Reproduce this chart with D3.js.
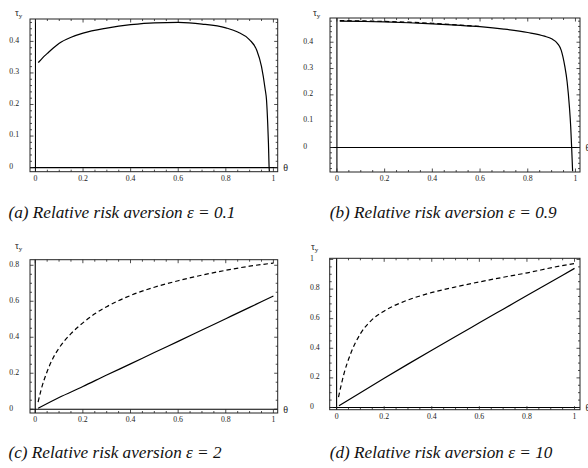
<!DOCTYPE html>
<html>
<head>
<meta charset="utf-8">
<script src="https://cdn.jsdelivr.net/npm/d3@7/dist/d3.min.js"></script>
<style>
body { margin: 0; background: #fff; }
svg text { font-family: "Liberation Serif", "DejaVu Serif", "Noto Serif", Tinos, serif; }
</style>
</head>
<body>
<svg id="chart" width="588" height="468"></svg>
<script>
// (a) epsilon = 0.1
const thetaA = [0.012, 0.03, 0.05, 0.075, 0.1, 0.15, 0.2, 0.3, 0.4, 0.5, 0.6, 0.7, 0.8, 0.85, 0.9, 0.93, 0.95, 0.965, 0.971, 0.976, 0.979, 0.982, 0.983];
const tauA = [0.333, 0.348, 0.362, 0.379, 0.394, 0.413, 0.426, 0.442, 0.453, 0.459, 0.46, 0.455, 0.443, 0.43, 0.405, 0.372, 0.32, 0.25, 0.214, 0.14, 0.08, 0.0, -0.012];

// (b) epsilon = 0.9
const thetaB = [0.012, 0.1, 0.2, 0.3, 0.4, 0.5, 0.6, 0.7, 0.8, 0.87, 0.9, 0.925, 0.94, 0.955, 0.965, 0.975, 0.98, 0.984, 0.988];
const tauB = [0.48, 0.479, 0.477, 0.474, 0.47, 0.465, 0.459, 0.45, 0.437, 0.423, 0.413, 0.395, 0.37, 0.31, 0.25, 0.15, 0.08, 0.0, -0.09];
const thetaBDash = [0.012, 0.1, 0.2, 0.3, 0.4, 0.5, 0.6];
const tauBDash = [0.482, 0.481, 0.479, 0.476, 0.472, 0.466, 0.46];

// (c) epsilon = 2
const thetaC = [0.012, 0.1, 0.2, 0.3, 0.4, 0.5, 0.6, 0.7, 0.8, 0.9, 1.0];
const tauC = [0.005, 0.065, 0.126, 0.19, 0.252, 0.315, 0.377, 0.44, 0.503, 0.566, 0.629];
const thetaCDash = [0.012, 0.025, 0.05, 0.075, 0.1, 0.15, 0.2, 0.25, 0.3, 0.4, 0.5, 0.6, 0.7, 0.8, 0.9, 1.0];
const tauCDash = [0.04, 0.11, 0.21, 0.285, 0.34, 0.42, 0.48, 0.53, 0.57, 0.632, 0.678, 0.714, 0.745, 0.772, 0.795, 0.812];

// (d) epsilon = 10
const thetaD = [0.01, 0.1, 0.2, 0.3, 0.4, 0.5, 0.6, 0.7, 0.8, 0.9, 1.0];
const tauD = [0.012, 0.1, 0.197, 0.293, 0.387, 0.48, 0.572, 0.664, 0.756, 0.848, 0.94];
const thetaDDash = [0.008, 0.031, 0.059, 0.1, 0.143, 0.199, 0.283, 0.381, 0.493, 0.605, 0.717, 0.802, 0.914, 1.0];
const tauDDash = [0.07, 0.228, 0.363, 0.498, 0.584, 0.651, 0.716, 0.768, 0.812, 0.85, 0.885, 0.91, 0.948, 0.973];

const xTicks = [0, 0.2, 0.4, 0.6, 0.8, 1];
const yTicksAB = [0, 0.1, 0.2, 0.3, 0.4];
const yTicksC = [0, 0.2, 0.4, 0.6, 0.8];
const yTicksD = [0, 0.2, 0.4, 0.6, 0.8, 1];
const captions = [
	"(a) Relative risk aversion \u03b5 = 0.1",
	"(b) Relative risk aversion \u03b5 = 0.9",
	"(c) Relative risk aversion \u03b5 = 2",
	"(d) Relative risk aversion \u03b5 = 10"
];

const panels = [
	{left: 30, top: 19, right: 277.7, bottom: 171.7, xDom: [-0.023, 1.018], yDom: [-0.013, 0.471],
	 yTicks: yTicksAB, yMinor: 0.02, labelX: 9.3, labX: 15, labY: 16, capX: 8.5, capY: 218,
	 lines: [{x: thetaA, y: tauA, dash: false}]},
	{left: 330, top: 18, right: 580, bottom: 172, xDom: [-0.029, 1.019], yDom: [-0.093, 0.492],
	 yTicks: yTicksAB, yMinor: 0.02, labelX: 303.3, labX: 313, labY: 16, capX: 329.7, capY: 218,
	 lines: [{x: thetaB, y: tauB, dash: false}, {x: thetaBDash, y: tauBDash, dash: true}]},
	{left: 30, top: 259.7, right: 277.7, bottom: 413, xDom: [-0.022, 1.018], yDom: [-0.021, 0.831],
	 yTicks: yTicksC, yMinor: 0.05, labelX: 9.3, labX: 15, labY: 249, capX: 8.5, capY: 458,
	 lines: [{x: thetaC, y: tauC, dash: false}, {x: thetaCDash, y: tauCDash, dash: true}]},
	{left: 329.7, top: 258.3, right: 580, bottom: 409.7, xDom: [-0.029, 1.023], yDom: [-0.015, 1.008],
	 yTicks: yTicksD, yMinor: 0.05, labelX: 310, labX: 311, labY: 250, capX: 329.7, capY: 458,
	 lines: [{x: thetaD, y: tauD, dash: false}, {x: thetaDDash, y: tauDDash, dash: true}]}
];

const svg = d3.select("#chart");

function minorValues(dom, step) {
	let out = [];
	let start = Math.ceil(dom[0] / step - 1e-9) * step;
	for (let v = start; v <= dom[1] + 1e-9; v += step) out.push(+v.toFixed(4));
	return out;
}

panels.forEach((p, i) => {
	let g = svg.append("g");
	let x = d3.scaleLinear().domain(p.xDom).range([p.left, p.right]);
	let y = d3.scaleLinear().domain(p.yDom).range([p.bottom, p.top]);

	// axes through the origin
	g.append("line").attr("x1", x(0)).attr("x2", x(0)).attr("y1", p.top).attr("y2", p.bottom)
	 .attr("stroke", "#000").attr("stroke-width", 1.1);
	g.append("line").attr("x1", p.left).attr("x2", p.right).attr("y1", y(0)).attr("y2", y(0))
	 .attr("stroke", "#000").attr("stroke-width", 1.1);

	// frame with inward ticks on all four sides
	g.append("rect").attr("x", p.left).attr("y", p.top)
	 .attr("width", p.right - p.left).attr("height", p.bottom - p.top)
	 .attr("fill", "none").attr("stroke", "#222").attr("stroke-width", 1);

	let xMinor = minorValues(p.xDom, 0.05);
	let yMinor = minorValues(p.yDom, p.yMinor);
	let tk = g.append("g").attr("stroke", "#222").attr("stroke-width", 0.8);
	xMinor.forEach((v) => {
		let len = xTicks.some((t) => Math.abs(t - v) < 1e-6) ? 3.5 : 2;
		tk.append("line").attr("x1", x(v)).attr("x2", x(v)).attr("y1", p.bottom).attr("y2", p.bottom - len);
		tk.append("line").attr("x1", x(v)).attr("x2", x(v)).attr("y1", p.top).attr("y2", p.top + len);
	});
	yMinor.forEach((v) => {
		let len = p.yTicks.some((t) => Math.abs(t - v) < 1e-6) ? 3.5 : 2;
		tk.append("line").attr("y1", y(v)).attr("y2", y(v)).attr("x1", p.left).attr("x2", p.left + len);
		tk.append("line").attr("y1", y(v)).attr("y2", y(v)).attr("x1", p.right).attr("x2", p.right - len);
	});

	// tick labels
	g.selectAll(".xlab").data(xTicks).enter().append("text")
	 .attr("class", "xlab")
	 .attr("x", (d) => x(d)).attr("y", p.bottom + 9)
	 .attr("text-anchor", "middle").attr("font-size", 7.8).attr("fill", "#222")
	 .text((d) => String(d));
	g.selectAll(".ylab").data(p.yTicks).enter().append("text")
	 .attr("class", "ylab")
	 .attr("x", p.labelX).attr("y", (d) => y(d) + 1.3)
	 .attr("text-anchor", "start").attr("font-size", 7.8).attr("fill", "#222")
	 .text((d) => String(d));

	// axis labels
	let ty = g.append("text").attr("x", p.labX).attr("y", p.labY).attr("font-size", 9.5).attr("fill", "#222");
	ty.append("tspan").text("\u03c4");
	ty.append("tspan").attr("font-size", 7).attr("dy", 2).text("y");
	g.append("text").attr("x", p.right + 5.5).attr("y", y(0) + 3.5).attr("font-size", 10)
	 .attr("fill", "#222").text("\u03b8");

	// curves
	let line = d3.line().x((d) => x(d[0])).y((d) => y(d[1])).curve(d3.curveMonotoneX);
	p.lines.forEach((s) => {
		g.append("path")
		 .datum(s.x.map((v, k) => [v, s.y[k]]))
		 .attr("d", line)
		 .attr("fill", "none")
		 .attr("stroke", "#000")
		 .attr("stroke-width", 1.2)
		 .attr("stroke-dasharray", s.dash ? "4.5,3" : null);
	});

	// caption
	svg.append("text")
	 .attr("x", p.capX).attr("y", p.capY)
	 .attr("font-size", 17.2).attr("font-style", "italic").attr("fill", "#111")
	 .text(captions[i]);
});
</script>
</body>
</html>
